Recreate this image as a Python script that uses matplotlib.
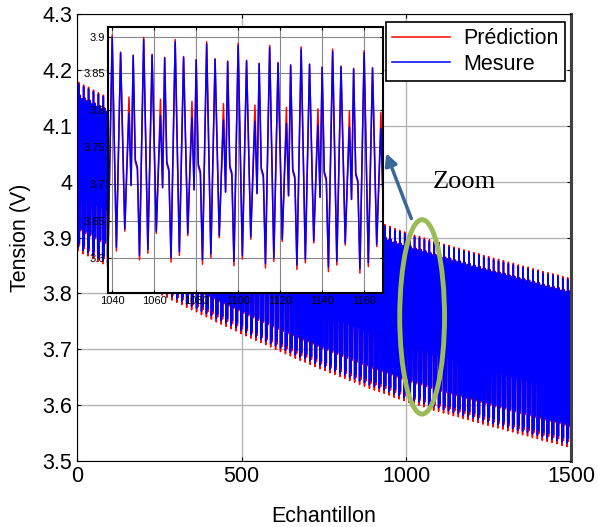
import numpy as np
import matplotlib
matplotlib.use('Agg')
import matplotlib.pyplot as plt
from matplotlib.patches import Ellipse
from matplotlib.ticker import FormatStrFormatter

plt.rcParams['font.family'] = ['Liberation Sans', 'DejaVu Sans']

cycle_mesure = [0.271, 0.130, 0.120, 0.000, 0.145, 0.293, 0.150, 0.008,
                0.140, 0.272, 0.152, 0.033, 0.115, 0.190, 0.092]
cycle_prediction = [0.272, 0.127, 0.117, -0.006, 0.146, 0.296, 0.150, 0.003,
                    0.141, 0.273, 0.152, 0.030, 0.122, 0.212, 0.092]

base_cycle = [3.882, 3.877, 3.873, 3.868, 3.863, 3.859, 3.854, 3.849, 3.845, 3.840,
              3.835, 3.831, 3.826, 3.822, 3.817, 3.812, 3.808, 3.803, 3.799, 3.794,
              3.790, 3.786, 3.781, 3.777, 3.773, 3.768, 3.764, 3.760, 3.755, 3.751,
              3.747, 3.743, 3.739, 3.734, 3.730, 3.726, 3.722, 3.718, 3.714, 3.710,
              3.706, 3.702, 3.698, 3.694, 3.690, 3.686, 3.683, 3.679, 3.675, 3.671,
              3.668, 3.664, 3.661, 3.657, 3.654, 3.650, 3.647, 3.643, 3.640, 3.636,
              3.633, 3.630, 3.627, 3.624, 3.620, 3.617, 3.614, 3.611, 3.608, 3.606,
              3.603, 3.600, 3.597, 3.595, 3.592, 3.590, 3.587, 3.585, 3.582, 3.580,
              3.577, 3.575, 3.572, 3.570, 3.567, 3.565, 3.563, 3.560, 3.558, 3.555,
              3.553, 3.551, 3.548, 3.546, 3.543, 3.541, 3.539, 3.537, 3.534, 3.532]

x_ticks = [0, 500, 1000, 1500]
y_ticks = [3.5, 3.6, 3.7, 3.8, 3.9, 4.0, 4.1, 4.2, 4.3]
zoom_x_ticks = [1040, 1060, 1080, 1100, 1120, 1140, 1160]
zoom_y_ticks = [3.6, 3.65, 3.7, 3.75, 3.8, 3.85, 3.9]

mesure = np.concatenate([b + np.array(cycle_mesure) for b in base_cycle])
prediction = np.concatenate([b + np.array(cycle_prediction) for b in base_cycle])
echantillon = np.arange(len(mesure))

fig = plt.figure(figsize=(5.98, 5.27), dpi=100)

# axe principal
ax = fig.add_axes([0.1288, 0.1252, 0.826, 0.8482])
l1, = ax.plot(echantillon, prediction, color='red', lw=1.1, label='Prédiction')
l2, = ax.plot(echantillon, mesure, color='blue', lw=1.1, label='Mesure')
ax.set_xlim(0, 1500)
ax.set_ylim(3.5, 4.3)
ax.set_xticks(x_ticks)
ax.set_yticks(y_ticks)
ax.yaxis.set_major_formatter(FormatStrFormatter('%g'))
ax.grid(True, color='#b4b4b4', lw=1)
ax.tick_params(direction='in', length=3, top=True, right=True, labelsize=15.5)
ax.set_xlabel('Echantillon', fontsize=15.5, labelpad=14)
ax.set_ylabel('Tension (V)', fontsize=15.5, labelpad=8)
ax.spines['right'].set_linewidth(2.2)
ax.spines['right'].set_color('#404040')

# ellipse, flèche et texte
ax.add_patch(Ellipse((1048, 3.758), width=136, height=0.348, fill=False,
                     edgecolor='#9bbb59', lw=3.5, zorder=6))
ax.annotate('', xy=(939, 4.051), xytext=(1015, 3.934),
            arrowprops=dict(arrowstyle='-|>', lw=2.5, color='#3a679a',
                            mutation_scale=18, shrinkA=0, shrinkB=0), zorder=6)
ax.text(1176, 4.0, 'Zoom', fontsize=19, family='Liberation Serif',
        ha='center', va='center', zorder=6)

# zoom
axin = fig.add_axes([0.1806, 0.444, 0.4599, 0.5047])
axin.plot(echantillon, prediction, color='red', lw=1.1)
axin.plot(echantillon, mesure, color='blue', lw=1.1)
axin.set_xlim(1038, 1169)
axin.set_ylim(3.552, 3.913)
axin.set_xticks(zoom_x_ticks)
axin.set_yticks(zoom_y_ticks)
axin.yaxis.set_major_formatter(FormatStrFormatter('%g'))
axin.grid(True, color='#888888', lw=0.8)
axin.tick_params(direction='in', length=2, top=True, right=True, labelsize=8, pad=2)
for s in axin.spines.values():
    s.set_linewidth(1.5)

leg = fig.legend(handles=[l1, l2], loc='upper right', bbox_to_anchor=(0.9448, 0.9583),
                 fontsize=15.5, fancybox=False, edgecolor='black', framealpha=1,
                 handlelength=2.7, borderpad=0.3, labelspacing=0.2, handletextpad=0.6,
                 borderaxespad=0)
leg.get_frame().set_linewidth(1.2)

fig.savefig('out.png', dpi=100)
